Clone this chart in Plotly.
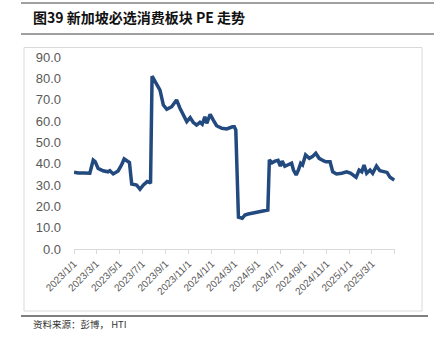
import plotly.graph_objects as go

# ---- data ----
dates = [
    "2023-01-01", "2023-01-12", "2023-01-28", "2023-02-12", "2023-02-21", "2023-02-26",
    "2023-03-06", "2023-03-19", "2023-04-01", "2023-04-06", "2023-04-15", "2023-04-28",
    "2023-05-07", "2023-05-14", "2023-05-28", "2023-06-03", "2023-06-16", "2023-06-25",
    "2023-07-04", "2023-07-14", "2023-07-21", "2023-07-23", "2023-07-27", "2023-08-08",
    "2023-08-17", "2023-08-26", "2023-09-04", "2023-09-17", "2023-09-30", "2023-10-09",
    "2023-10-18", "2023-10-27", "2023-11-05", "2023-11-13", "2023-11-22", "2023-12-01",
    "2023-12-07", "2023-12-14", "2023-12-19", "2023-12-28", "2024-01-05", "2024-01-14",
    "2024-01-28", "2024-02-10", "2024-02-25", "2024-03-01", "2024-03-05", "2024-03-12",
    "2024-03-22", "2024-03-29", "2024-04-07", "2024-04-16", "2024-05-04", "2024-05-29",
    "2024-06-02", "2024-06-09", "2024-06-17", "2024-06-25", "2024-07-01", "2024-07-06",
    "2024-07-13", "2024-07-22", "2024-07-31", "2024-08-05", "2024-08-12", "2024-08-18",
    "2024-08-24", "2024-08-29", "2024-09-06", "2024-09-16", "2024-09-24", "2024-10-03",
    "2024-10-12", "2024-10-23", "2024-10-30", "2024-11-10", "2024-11-17", "2024-11-27",
    "2024-12-11", "2024-12-24", "2025-01-04", "2025-01-18", "2025-01-26", "2025-02-02",
    "2025-02-08", "2025-02-15", "2025-02-24", "2025-03-03", "2025-03-13", "2025-03-22",
    "2025-03-31", "2025-04-10", "2025-04-18", "2025-04-26", "2025-04-29",
]
pe_values = [
    36.0, 35.6, 35.6, 35.5, 41.7, 41.0,
    37.8, 36.7, 36.2, 36.7, 35.2, 36.6,
    39.4, 42.2, 40.5, 30.5, 30.0, 28.0,
    30.0, 31.6, 31.1, 31.3, 81.0, 77.7,
    74.5, 67.5, 65.5, 66.7, 69.9, 66.0,
    62.8, 59.7, 61.6, 59.4, 58.1, 59.4,
    58.5, 62.0, 58.9, 63.1, 60.5, 57.8,
    56.6, 56.3, 57.3, 57.3, 55.8, 14.9,
    14.4, 15.9, 16.4, 16.7, 17.5, 18.3,
    41.8, 40.4, 41.2, 41.6, 38.8, 41.2,
    38.8, 39.4, 40.2, 37.0, 34.7, 37.0,
    40.2, 39.4, 44.1, 42.5, 43.3, 44.9,
    42.5, 41.4, 40.9, 40.9, 36.2, 35.2,
    35.5, 36.2, 35.5, 33.6, 37.0, 36.2,
    39.4, 35.5, 37.0, 35.5, 38.9, 36.7,
    36.2, 35.9, 33.6, 32.7, 32.3,
]
tick_dates = [
    "2023-01-01", "2023-03-01", "2023-05-01", "2023-07-01", "2023-09-01", "2023-11-01",
    "2024-01-01", "2024-03-01", "2024-05-01", "2024-07-01", "2024-09-01", "2024-11-01",
    "2025-01-01", "2025-03-01", "2025-05-01",
]
tick_labels = [
    "2023/1/1", "2023/3/1", "2023/5/1", "2023/7/1", "2023/9/1", "2023/11/1",
    "2024/1/1", "2024/3/1", "2024/5/1", "2024/7/1", "2024/9/1", "2024/11/1",
    "2025/1/1", "2025/3/1", "",
]
y_ticks = [0, 10, 20, 30, 40, 50, 60, 70, 80, 90]
title_text = "图39 新加坡必选消费板块 PE 走势"
source_text = "资料来源：彭博， HTI"

# ---- layout geometry ----
W, H = 434, 343
L, R, T, B = 74, 39, 57, 94
PW, PH = W - L - R, H - T - B


def px(x):
    return (x - L) / PW


def py(y):
    return (H - B - y) / PH


fig = go.Figure()
fig.add_trace(go.Scatter(
    x=dates, y=pe_values, mode="lines",
    line=dict(color="#234a7e", width=3.5),
    hoverinfo="skip", showlegend=False,
))

fig.update_layout(
    width=W, height=H,
    margin=dict(l=L, r=R, t=T, b=B),
    paper_bgcolor="white", plot_bgcolor="white",
    font=dict(family="Liberation Sans, Arial, sans-serif", color="#595959"),
    xaxis=dict(
        type="date",
        range=["2023-01-01", "2025-05-01 03:00"],
        tickmode="array", tickvals=tick_dates, ticktext=tick_labels,
        tickangle=-45, tickfont=dict(size=10, color="#595959"),
        ticks="outside", ticklen=4, tickcolor="#d9d9d9",
        showline=True, linecolor="#d9d9d9", linewidth=1,
        showgrid=False, zeroline=False,
    ),
    yaxis=dict(
        range=[0, 90.01],
        tickmode="array", tickvals=y_ticks,
        tickformat=".1f", tickfont=dict(size=13, color="#595959"),
        ticklabelstandoff=12,
        showline=False, showgrid=False, zeroline=False, ticks="",
    ),
)

shapes = [
    # chart frame
    dict(type="rect", xref="paper", yref="paper",
         x0=px(24), x1=px(422), y0=py(311), y1=py(47.5),
         line=dict(color="#d9d9d9", width=1)),
    # top rule
    dict(type="line", xref="paper", yref="paper",
         x0=px(21), x1=px(434), y0=py(3), y1=py(3),
         line=dict(color="#404040", width=1)),
    # rule under title
    dict(type="line", xref="paper", yref="paper",
         x0=px(21), x1=px(434), y0=py(34), y1=py(34),
         line=dict(color="#404040", width=1)),
    # rule above source
    dict(type="line", xref="paper", yref="paper",
         x0=px(21), x1=px(428), y0=py(316), y1=py(316),
         line=dict(color="#555555", width=1.5)),
]
fig.update_layout(shapes=shapes)

fig.add_annotation(
    x=px(31), y=py(17), xref="paper", yref="paper",
    xanchor="left", yanchor="middle", showarrow=False,
    text="<b>" + title_text + "</b>",
    font=dict(family="Noto Sans CJK SC", size=14, color="#111111"),
)
fig.add_annotation(
    x=px(31), y=py(324), xref="paper", yref="paper",
    xanchor="left", yanchor="middle", showarrow=False,
    text=source_text,
    font=dict(family="Noto Sans CJK SC", size=9.5, color="#333333"),
)

fig.write_html("out.html")
